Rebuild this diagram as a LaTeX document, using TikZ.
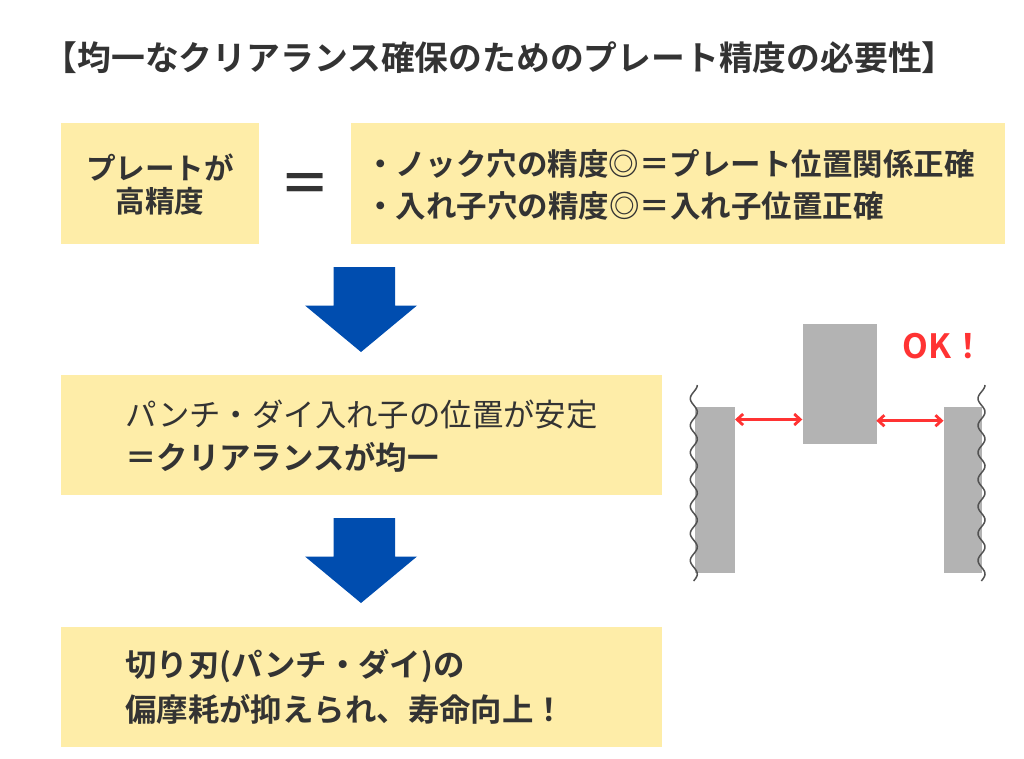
\documentclass[tikz,border=0pt]{standalone}
\usepackage{fontspec}
\setmainfont{Noto Sans CJK JP}[BoldFont={Noto Sans CJK JP Bold}]
\definecolor{boxy}{HTML}{FEEDA8}
\definecolor{ink}{HTML}{333333}
\definecolor{bar}{HTML}{B3B3B3}
\definecolor{bluearr}{HTML}{004DAF}
\definecolor{okred}{HTML}{FF3333}
\tikzset{
  panel/.style={fill=boxy,draw=none,inner sep=0pt,minimum width=#1,anchor=north west},
  txt/.style={text=ink,inner sep=0pt,anchor=west,font=\fontsize{31.4}{31.4}\selectfont\bfseries},
  plate/.style={fill=bar,draw=none,inner sep=0pt,anchor=north west},
  gap/.style={draw=okred,line width=2.8pt,{Straight Barb[length=6pt,width=11pt]}-{Straight Barb[length=6pt,width=11pt]}},
  wav/.style={draw=ink!85,line width=1.5pt},
  down/.style={fill=bluearr,draw=none}
}
\usetikzlibrary{arrows.meta}
\begin{document}
\begin{tikzpicture}[x=1pt,y=-1pt]
\useasboundingbox (0,0) rectangle (1024,759);
\fill[white] (0,0) rectangle (1024,759);
\node[txt,font=\fontsize{33.8}{33.8}\selectfont\bfseries] (title) at (43.5,58) {【均一なクリアランス確保のためのプレート精度の必要性】};
\node[panel=198pt,minimum height=121pt] (p1) at (60.5,123) {};
\node[panel=654pt,minimum height=121pt] (p2) at (351,123) {};
\node[panel=601.5pt,minimum height=120pt] (p3) at (60.5,375) {};
\node[panel=601.5pt,minimum height=120pt] (p4) at (60.5,626.5) {};
\node[text=ink,inner sep=0pt,align=center,font=\fontsize{29.6}{33}\selectfont\bfseries] (t1) at (160,184.5) {プレートが\\高精度};
\node[txt,font=\fontsize{70}{70}\selectfont\bfseries,anchor=center] (eq) at (305,187) {\scalebox{1}[0.72]{=}};
\node[txt,font=\fontsize{30.5}{30.5}\selectfont\bfseries] (t2a) at (365,164) {・ノック穴の精度◎＝プレート位置関係正確};
\node[txt,font=\fontsize{30.5}{30.5}\selectfont\bfseries] (t2b) at (365,206) {・入れ子穴の精度◎＝入れ子位置正確};
\node[txt,font=\fontsize{31.4}{31.4}\selectfont] (t3a) at (125,415) {パンチ・ダイ入れ子の位置が安定};
\node[txt] (t3b) at (125,457) {＝クリアランスが均一};
\node[txt] (t4a) at (125,666) {切り刃(パンチ・ダイ)の};
\node[txt] (t4b) at (125,709) {偏摩耗が抑えられ、寿命向上！};
\path[down] (333.5,267) -- (395,267) -- (395,305.5) -- (417,305.5) -- (361,352) -- (305,305.5) -- (333.5,305.5) -- cycle;
\path[down] (333.5,518) -- (395,518) -- (395,556.5) -- (417,556.5) -- (361,603) -- (305,556.5) -- (333.5,556.5) -- cycle;
\node[plate,minimum width=74pt,minimum height=120pt] (punch) at (802.3,323.3) {};
\node[plate,minimum width=40pt,minimum height=166pt] (dl) at (695,406.3) {};
\node[plate,minimum width=38.5pt,minimum height=166pt] (dr) at (943.5,406.3) {};
\draw[wav,smooth,domain=0:196,samples=120] plot ({693.8+3.5*cos(\x/27*360)},{385+\x});
\draw[wav,smooth,domain=0:196,samples=120] plot ({981.5+3.5*cos(\x/27*360)},{385+\x});
\coordinate (la) at (735,419.5);
\coordinate (ra) at (802.3,419.5);
\coordinate (lb) at (876.3,420.7);
\coordinate (rb) at (943.5,420.7);
\draw[gap] (la) -- (ra);
\draw[gap] (lb) -- (rb);
\node[text=okred,inner sep=0pt,anchor=west,font=\fontsize{33.5}{33.5}\selectfont\bfseries] (ok) at (902.5,346) {OK！};
\end{tikzpicture}
\end{document}
